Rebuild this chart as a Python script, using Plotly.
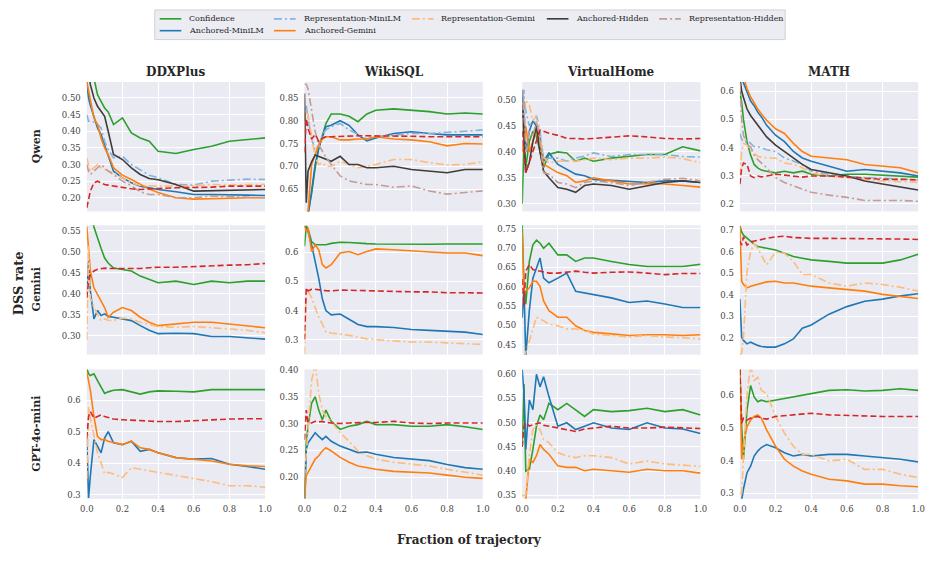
import plotly.graph_objects as go

# ---------------- data ----------------
X = [0, 0.01, 0.02, 0.04, 0.06, 0.08, 0.1, 0.12, 0.15, 0.2, 0.25, 0.3, 0.35, 0.4, 0.5, 0.6, 0.7, 0.8, 0.9, 1.0]

MODELS = ["Qwen", "Gemini", "GPT-4o-mini"]
DATASETS = ["DDXPlus", "WikiSQL", "VirtualHome", "MATH"]
X_TICKS = [0.0, 0.2, 0.4, 0.6, 0.8, 1.0]

qwen_ddxplus = {
    "Confidence":            [0.60, 0.60, 0.60, 0.56, 0.51, 0.49, 0.47, 0.458, 0.42, 0.44, 0.395, 0.38, 0.37, 0.34, 0.333, 0.345, 0.355, 0.37, 0.374, 0.38],
    "Anchored-MiniLM":       [0.55, 0.50, 0.478, 0.44, 0.41, 0.39, 0.36, 0.33, 0.28, 0.26, 0.245, 0.235, 0.23, 0.225, 0.218, 0.21, 0.21, 0.21, 0.208, 0.207],
    "Representation-MiniLM": [0.45, 0.43, 0.43, 0.428, 0.42, 0.41, 0.37, 0.345, 0.32, 0.325, 0.30, 0.285, 0.268, 0.26, 0.24, 0.238, 0.25, 0.253, 0.256, 0.255],
    "Anchored-Gemini":       [0.55, 0.52, 0.49, 0.44, 0.42, 0.38, 0.35, 0.33, 0.29, 0.268, 0.255, 0.24, 0.226, 0.216, 0.20, 0.196, 0.198, 0.20, 0.20, 0.20],
    "Representation-Gemini": [0.32, 0.30, 0.28, 0.29, 0.30, 0.29, 0.285, 0.28, 0.275, 0.26, 0.245, 0.237, 0.235, 0.235, 0.235, 0.236, 0.24, 0.238, 0.24, 0.24],
    "Anchored-Hidden":       [0.60, 0.57, 0.54, 0.50, 0.475, 0.46, 0.445, 0.40, 0.33, 0.315, 0.29, 0.27, 0.258, 0.254, 0.24, 0.22, 0.221, 0.222, 0.224, 0.225],
    "Representation-Hidden": [0.30, 0.28, 0.27, 0.28, 0.29, 0.30, 0.29, 0.28, 0.27, 0.25, 0.236, 0.218, 0.21, 0.21, 0.20, 0.20, 0.205, 0.203, 0.20, 0.20],
    "Baseline":              [0.17, 0.20, 0.22, 0.245, 0.25, 0.245, 0.24, 0.238, 0.235, 0.23, 0.227, 0.225, 0.227, 0.228, 0.23, 0.23, 0.232, 0.235, 0.235, 0.235],
}
qwen_wikisql = {
    "Confidence":            [0.55, 0.58, 0.60, 0.64, 0.697, 0.74, 0.769, 0.794, 0.815, 0.815, 0.81, 0.798, 0.815, 0.823, 0.826, 0.823, 0.82, 0.815, 0.817, 0.815],
    "Anchored-MiniLM":       [0.55, 0.57, 0.59, 0.646, 0.704, 0.74, 0.765, 0.787, 0.79, 0.80, 0.79, 0.769, 0.756, 0.762, 0.772, 0.776, 0.772, 0.769, 0.769, 0.769],
    "Representation-MiniLM": [0.80, 0.834, 0.805, 0.76, 0.736, 0.747, 0.769, 0.78, 0.787, 0.794, 0.78, 0.77, 0.76, 0.765, 0.769, 0.772, 0.772, 0.774, 0.777, 0.78],
    "Anchored-Gemini":       [0.55, 0.57, 0.60, 0.704, 0.726, 0.747, 0.76, 0.765, 0.765, 0.758, 0.758, 0.76, 0.76, 0.765, 0.76, 0.758, 0.754, 0.745, 0.75, 0.749],
    "Representation-Gemini": [0.80, 0.826, 0.812, 0.769, 0.72, 0.704, 0.708, 0.70, 0.70, 0.711, 0.704, 0.697, 0.70, 0.704, 0.715, 0.715, 0.708, 0.703, 0.704, 0.71],
    "Anchored-Hidden":       [0.86, 0.62, 0.69, 0.71, 0.725, 0.722, 0.718, 0.715, 0.711, 0.722, 0.704, 0.704, 0.697, 0.697, 0.70, 0.693, 0.69, 0.686, 0.693, 0.693],
    "Representation-Hidden": [0.88, 0.88, 0.87, 0.826, 0.776, 0.747, 0.733, 0.72, 0.704, 0.679, 0.668, 0.664, 0.66, 0.66, 0.654, 0.657, 0.646, 0.639, 0.643, 0.646],
    "Baseline":              [0.73, 0.805, 0.783, 0.76, 0.77, 0.755, 0.762, 0.765, 0.765, 0.766, 0.766, 0.767, 0.767, 0.767, 0.766, 0.766, 0.765, 0.765, 0.765, 0.765],
}
qwen_virtualhome = {
    "Confidence":            [0.30, 0.42, 0.37, 0.42, 0.44, 0.43, 0.40, 0.37, 0.395, 0.40, 0.398, 0.382, 0.388, 0.382, 0.388, 0.391, 0.395, 0.395, 0.41, 0.402],
    "Anchored-MiniLM":       [0.52, 0.45, 0.40, 0.44, 0.46, 0.45, 0.43, 0.382, 0.398, 0.376, 0.366, 0.357, 0.354, 0.347, 0.345, 0.343, 0.341, 0.344, 0.344, 0.341],
    "Representation-MiniLM": [0.52, 0.50, 0.48, 0.45, 0.46, 0.47, 0.44, 0.385, 0.388, 0.388, 0.382, 0.388, 0.392, 0.398, 0.391, 0.395, 0.395, 0.395, 0.391, 0.39],
    "Anchored-Gemini":       [0.40, 0.42, 0.45, 0.40, 0.42, 0.44, 0.41, 0.376, 0.37, 0.36, 0.354, 0.341, 0.344, 0.35, 0.344, 0.338, 0.339, 0.338, 0.335, 0.332],
    "Representation-Gemini": [0.45, 0.48, 0.50, 0.49, 0.46, 0.47, 0.43, 0.39, 0.379, 0.382, 0.382, 0.382, 0.385, 0.388, 0.385, 0.388, 0.388, 0.39, 0.387, 0.379],
    "Anchored-Hidden":       [0.49, 0.42, 0.36, 0.38, 0.42, 0.45, 0.40, 0.363, 0.35, 0.331, 0.328, 0.322, 0.335, 0.338, 0.335, 0.328, 0.335, 0.341, 0.344, 0.341],
    "Representation-Hidden": [0.45, 0.52, 0.40, 0.44, 0.43, 0.46, 0.42, 0.36, 0.357, 0.341, 0.338, 0.331, 0.341, 0.344, 0.341, 0.335, 0.341, 0.347, 0.349, 0.344],
    "Baseline":              [0.44, 0.40, 0.36, 0.38, 0.40, 0.42, 0.442, 0.44, 0.436, 0.432, 0.426, 0.426, 0.425, 0.426, 0.429, 0.431, 0.429, 0.426, 0.425, 0.426],
}
qwen_math = {
    "Confidence":            [0.60, 0.56, 0.50, 0.42, 0.374, 0.34, 0.328, 0.32, 0.316, 0.31, 0.316, 0.31, 0.316, 0.305, 0.299, 0.305, 0.305, 0.302, 0.299, 0.295],
    "Anchored-MiniLM":       [0.65, 0.65, 0.63, 0.595, 0.566, 0.549, 0.526, 0.51, 0.479, 0.444, 0.421, 0.386, 0.363, 0.351, 0.334, 0.316, 0.322, 0.316, 0.31, 0.299],
    "Representation-MiniLM": [0.45, 0.43, 0.42, 0.427, 0.415, 0.403, 0.403, 0.40, 0.392, 0.386, 0.363, 0.351, 0.34, 0.316, 0.305, 0.299, 0.293, 0.291, 0.287, 0.285],
    "Anchored-Gemini":       [0.65, 0.65, 0.65, 0.61, 0.58, 0.56, 0.537, 0.52, 0.497, 0.467, 0.45, 0.415, 0.386, 0.369, 0.363, 0.357, 0.34, 0.334, 0.328, 0.31],
    "Representation-Gemini": [0.30, 0.386, 0.415, 0.409, 0.392, 0.38, 0.369, 0.366, 0.363, 0.363, 0.345, 0.34, 0.328, 0.31, 0.299, 0.293, 0.287, 0.281, 0.279, 0.276],
    "Anchored-Hidden":       [0.65, 0.60, 0.578, 0.537, 0.514, 0.497, 0.479, 0.46, 0.438, 0.409, 0.386, 0.363, 0.34, 0.322, 0.31, 0.299, 0.281, 0.27, 0.258, 0.249],
    "Representation-Hidden": [0.63, 0.50, 0.444, 0.409, 0.403, 0.374, 0.357, 0.345, 0.328, 0.293, 0.276, 0.264, 0.252, 0.241, 0.231, 0.223, 0.212, 0.212, 0.212, 0.209],
    "Baseline":              [0.27, 0.328, 0.345, 0.34, 0.299, 0.293, 0.299, 0.296, 0.299, 0.305, 0.302, 0.299, 0.295, 0.299, 0.299, 0.295, 0.291, 0.287, 0.287, 0.285],
}
gemini_ddxplus = {
    "Confidence":            [0.60, 0.60, 0.60, 0.559, 0.532, 0.508, 0.485, 0.473, 0.461, 0.458, 0.454, 0.442, 0.434, 0.426, 0.43, 0.422, 0.43, 0.426, 0.43, 0.43],
    "Anchored-MiniLM":       [0.40, 0.477, 0.407, 0.34, 0.36, 0.348, 0.352, 0.346, 0.344, 0.34, 0.336, 0.324, 0.313, 0.305, 0.306, 0.305, 0.298, 0.298, 0.295, 0.292],
    "Anchored-Gemini":       [0.56, 0.516, 0.454, 0.414, 0.399, 0.383, 0.367, 0.344, 0.356, 0.367, 0.36, 0.344, 0.332, 0.324, 0.328, 0.332, 0.332, 0.328, 0.324, 0.319],
    "Representation-Gemini": [0.29, 0.516, 0.39, 0.367, 0.352, 0.336, 0.34, 0.337, 0.336, 0.342, 0.34, 0.332, 0.327, 0.322, 0.32, 0.322, 0.319, 0.316, 0.313, 0.307],
    "Baseline":              [0.39, 0.43, 0.446, 0.454, 0.458, 0.46, 0.461, 0.46, 0.46, 0.461, 0.46, 0.46, 0.462, 0.463, 0.463, 0.465, 0.467, 0.468, 0.469, 0.472],
}
gemini_wikisql = {
    "Confidence":            [0.62, 0.69, 0.68, 0.636, 0.625, 0.625, 0.623, 0.625, 0.63, 0.634, 0.633, 0.63, 0.629, 0.628, 0.627, 0.627, 0.627, 0.628, 0.628, 0.628],
    "Anchored-MiniLM":       [0.69, 0.681, 0.67, 0.625, 0.568, 0.51, 0.44, 0.40, 0.385, 0.388, 0.37, 0.352, 0.345, 0.345, 0.342, 0.335, 0.332, 0.33, 0.326, 0.318],
    "Anchored-Gemini":       [0.69, 0.67, 0.681, 0.602, 0.625, 0.608, 0.557, 0.546, 0.557, 0.597, 0.602, 0.591, 0.602, 0.611, 0.608, 0.605, 0.60, 0.597, 0.597, 0.588],
    "Representation-Gemini": [0.25, 0.456, 0.467, 0.444, 0.41, 0.377, 0.354, 0.326, 0.323, 0.32, 0.315, 0.309, 0.303, 0.30, 0.295, 0.292, 0.292, 0.29, 0.286, 0.284],
    "Baseline":              [0.30, 0.478, 0.467, 0.473, 0.473, 0.47, 0.469, 0.468, 0.467, 0.47, 0.47, 0.469, 0.468, 0.467, 0.465, 0.464, 0.464, 0.461, 0.461, 0.46],
}
gemini_virtualhome = {
    "Confidence":            [0.76, 0.60, 0.555, 0.665, 0.708, 0.72, 0.712, 0.699, 0.712, 0.682, 0.682, 0.665, 0.674, 0.674, 0.665, 0.657, 0.652, 0.652, 0.652, 0.658],
    "Anchored-MiniLM":       [0.52, 0.60, 0.42, 0.538, 0.622, 0.648, 0.674, 0.622, 0.61, 0.622, 0.635, 0.588, 0.584, 0.58, 0.571, 0.559, 0.563, 0.555, 0.546, 0.546],
    "Anchored-Gemini":       [0.74, 0.58, 0.588, 0.597, 0.614, 0.614, 0.601, 0.563, 0.538, 0.521, 0.521, 0.499, 0.487, 0.482, 0.478, 0.474, 0.476, 0.476, 0.474, 0.476],
    "Representation-Gemini": [0.42, 0.42, 0.43, 0.461, 0.495, 0.521, 0.516, 0.512, 0.503, 0.499, 0.491, 0.491, 0.487, 0.478, 0.474, 0.47, 0.474, 0.47, 0.468, 0.465],
    "Baseline":              [0.62, 0.55, 0.64, 0.657, 0.644, 0.642, 0.64, 0.638, 0.635, 0.635, 0.638, 0.64, 0.637, 0.635, 0.637, 0.638, 0.635, 0.631, 0.634, 0.634],
}
gemini_math = {
    "Confidence":            [0.72, 0.692, 0.677, 0.662, 0.646, 0.635, 0.624, 0.62, 0.616, 0.608, 0.593, 0.578, 0.57, 0.562, 0.555, 0.547, 0.547, 0.547, 0.562, 0.588],
    "Anchored-MiniLM":       [0.38, 0.203, 0.188, 0.172, 0.18, 0.172, 0.165, 0.16, 0.157, 0.157, 0.172, 0.195, 0.245, 0.26, 0.31, 0.345, 0.37, 0.38, 0.395, 0.405],
    "Anchored-Gemini":       [0.72, 0.463, 0.448, 0.432, 0.44, 0.445, 0.448, 0.455, 0.46, 0.463, 0.455, 0.455, 0.448, 0.44, 0.432, 0.425, 0.417, 0.402, 0.394, 0.383],
    "Representation-Gemini": [0.12, 0.13, 0.203, 0.509, 0.60, 0.639, 0.616, 0.585, 0.539, 0.598, 0.593, 0.555, 0.494, 0.494, 0.455, 0.44, 0.455, 0.448, 0.435, 0.417],
    "Baseline":              [0.65, 0.631, 0.669, 0.631, 0.646, 0.65, 0.654, 0.658, 0.662, 0.669, 0.672, 0.666, 0.664, 0.662, 0.662, 0.662, 0.662, 0.662, 0.659, 0.657],
}
gpt_ddxplus = {
    "Confidence":            [0.70, 0.683, 0.678, 0.683, 0.662, 0.642, 0.621, 0.626, 0.631, 0.633, 0.626, 0.619, 0.626, 0.629, 0.628, 0.626, 0.633, 0.633, 0.631, 0.633],
    "Anchored-MiniLM":       [0.48, 0.29, 0.36, 0.475, 0.454, 0.433, 0.48, 0.50, 0.465, 0.459, 0.47, 0.438, 0.444, 0.433, 0.418, 0.413, 0.415, 0.397, 0.39, 0.381],
    "Anchored-Gemini":       [0.69, 0.662, 0.631, 0.548, 0.485, 0.475, 0.475, 0.47, 0.465, 0.459, 0.47, 0.449, 0.444, 0.433, 0.418, 0.413, 0.407, 0.397, 0.392, 0.39],
    "Representation-Gemini": [0.35, 0.579, 0.543, 0.485, 0.433, 0.402, 0.366, 0.371, 0.366, 0.355, 0.386, 0.381, 0.376, 0.371, 0.36, 0.35, 0.342, 0.329, 0.329, 0.324],
    "Baseline":              [0.48, 0.548, 0.564, 0.543, 0.548, 0.553, 0.548, 0.545, 0.54, 0.538, 0.536, 0.535, 0.533, 0.532, 0.532, 0.535, 0.538, 0.54, 0.541, 0.541],
}
gpt_wikisql = {
    "Confidence":            [0.16, 0.264, 0.295, 0.338, 0.35, 0.325, 0.307, 0.325, 0.304, 0.289, 0.295, 0.298, 0.304, 0.298, 0.298, 0.295, 0.295, 0.298, 0.294, 0.289],
    "Anchored-MiniLM":       [0.16, 0.252, 0.264, 0.273, 0.283, 0.276, 0.27, 0.276, 0.267, 0.258, 0.252, 0.246, 0.247, 0.243, 0.237, 0.234, 0.231, 0.224, 0.218, 0.215],
    "Anchored-Gemini":       [0.16, 0.203, 0.209, 0.221, 0.234, 0.24, 0.249, 0.255, 0.249, 0.237, 0.228, 0.221, 0.218, 0.215, 0.211, 0.209, 0.208, 0.204, 0.20, 0.198],
    "Representation-Gemini": [0.20, 0.25, 0.295, 0.38, 0.41, 0.356, 0.325, 0.313, 0.304, 0.283, 0.267, 0.249, 0.24, 0.234, 0.228, 0.224, 0.221, 0.215, 0.209, 0.204],
    "Baseline":              [0.27, 0.325, 0.301, 0.301, 0.304, 0.303, 0.304, 0.302, 0.301, 0.30, 0.301, 0.302, 0.302, 0.302, 0.304, 0.301, 0.30, 0.301, 0.301, 0.301],
}
gpt_virtualhome = {
    "Confidence":            [0.45, 0.58, 0.40, 0.404, 0.445, 0.493, 0.516, 0.506, 0.54, 0.527, 0.54, 0.527, 0.513, 0.527, 0.523, 0.525, 0.53, 0.523, 0.527, 0.516],
    "Anchored-MiniLM":       [0.61, 0.56, 0.445, 0.547, 0.527, 0.60, 0.574, 0.595, 0.554, 0.493, 0.50, 0.486, 0.493, 0.50, 0.489, 0.486, 0.50, 0.489, 0.487, 0.478],
    "Anchored-Gemini":       [0.34, 0.34, 0.34, 0.425, 0.418, 0.432, 0.455, 0.445, 0.435, 0.411, 0.408, 0.408, 0.401, 0.404, 0.401, 0.398, 0.404, 0.401, 0.401, 0.396],
    "Representation-Gemini": [0.35, 0.35, 0.35, 0.432, 0.486, 0.496, 0.486, 0.465, 0.459, 0.438, 0.432, 0.428, 0.432, 0.432, 0.428, 0.415, 0.421, 0.415, 0.412, 0.41],
    "Baseline":              [0.45, 0.493, 0.50, 0.493, 0.496, 0.498, 0.50, 0.495, 0.493, 0.489, 0.485, 0.482, 0.487, 0.489, 0.493, 0.489, 0.489, 0.491, 0.489, 0.488],
}
gpt_math = {
    "Confidence":            [0.68, 0.504, 0.404, 0.555, 0.63, 0.595, 0.58, 0.585, 0.58, 0.585, 0.59, 0.595, 0.60, 0.605, 0.615, 0.617, 0.613, 0.615, 0.62, 0.615],
    "Anchored-MiniLM":       [0.28, 0.28, 0.313, 0.363, 0.383, 0.414, 0.429, 0.44, 0.449, 0.439, 0.424, 0.414, 0.419, 0.414, 0.419, 0.419, 0.414, 0.409, 0.404, 0.396],
    "Anchored-Gemini":       [0.68, 0.404, 0.454, 0.504, 0.524, 0.535, 0.54, 0.53, 0.494, 0.444, 0.404, 0.383, 0.368, 0.358, 0.343, 0.338, 0.328, 0.328, 0.323, 0.32],
    "Representation-Gemini": [0.30, 0.30, 0.404, 0.605, 0.69, 0.645, 0.655, 0.615, 0.605, 0.535, 0.484, 0.444, 0.419, 0.419, 0.399, 0.404, 0.373, 0.373, 0.358, 0.348],
    "Baseline":              [0.68, 0.514, 0.53, 0.524, 0.53, 0.532, 0.535, 0.53, 0.527, 0.535, 0.537, 0.54, 0.543, 0.545, 0.54, 0.538, 0.535, 0.535, 0.535, 0.535],
}

PANEL_DATA = [
    [qwen_ddxplus, qwen_wikisql, qwen_virtualhome, qwen_math],
    [gemini_ddxplus, gemini_wikisql, gemini_virtualhome, gemini_math],
    [gpt_ddxplus, gpt_wikisql, gpt_virtualhome, gpt_math],
]

# ---------------- styling ----------------
W, H = 938, 567
SERIF = "DejaVu Serif"
BG = "#EAEAF2"
TXT = "#262626"

STYLE = {
    "Confidence":            ("#2ca02c", "solid"),
    "Anchored-MiniLM":       ("#1f77b4", "solid"),
    "Representation-MiniLM": ("#84b4dc", "8px,3px,2px,3px"),
    "Anchored-Gemini":       ("#ff7f0e", "solid"),
    "Representation-Gemini": ("#ffbb78", "8px,3px,2px,3px"),
    "Anchored-Hidden":       ("#3d3d3d", "solid"),
    "Representation-Hidden": ("#c49c94", "8px,3px,2px,3px"),
    "Baseline":              ("#d62728", "6px,3px"),
}
DRAW_ORDER = ["Confidence", "Anchored-MiniLM", "Representation-MiniLM", "Anchored-Gemini",
              "Representation-Gemini", "Anchored-Hidden", "Representation-Hidden", "Baseline"]

# axis ranges and tick steps per panel
Y_RANGES = [
    [(0.159, 0.548, 0.05), (0.601, 0.885, 0.05), (0.285, 0.535, 0.05), (0.173, 0.633, 0.1)],
    [(0.255, 0.563, 0.05), (0.249, 0.692, 0.1), (0.4245, 0.7585, 0.05), (0.122, 0.723, 0.1)],
    [(0.2875, 0.697, 0.1), (0.160, 0.4006, 0.05), (0.343, 0.610, 0.05), (0.283, 0.679, 0.1)],
]

COL_PX = [(81, 262), (302, 483), (523, 704), (744, 925)]
ROW_PX = [(78, 209), (223, 354), (369, 500)]

fig = go.Figure()
layout = {}
for r in range(3):
    for c in range(4):
        k = r * 4 + c + 1
        sfx = "" if k == 1 else str(k)
        panel = PANEL_DATA[r][c]
        for name in DRAW_ORDER:
            if name not in panel:
                continue
            vals = panel[name]
            assert len(vals) == len(X), (r, c, name, len(vals))
            color, dash = STYLE[name]
            fig.add_trace(go.Scatter(
                x=X, y=vals, mode="lines", name=name, showlegend=False,
                line=dict(color=color, width=1.6, dash=dash),
                xaxis="x" + sfx, yaxis="y" + sfx, hoverinfo="skip",
            ))
        x0, x1 = COL_PX[c]
        y0, y1 = ROW_PX[r]
        lo, hi, step = Y_RANGES[r][c]
        layout["xaxis" + sfx] = dict(
            domain=[x0 / W, x1 / W], range=[0, 1], anchor="y" + sfx,
            tickvals=X_TICKS, ticktext=[f"{v:.1f}" for v in X_TICKS],
            showticklabels=(r == 2), showgrid=True, gridcolor="white", gridwidth=1,
            zeroline=False, showline=False, ticks="", ticklabelstandoff=4,
            tickfont=dict(family=SERIF, size=8.5, color="#444444"),
        )
        layout["yaxis" + sfx] = dict(
            domain=[1 - y1 / H, 1 - y0 / H], range=[lo, hi], anchor="x" + sfx,
            tick0=0, dtick=step, tickformat=".2f" if step < 0.1 else ".1f",
            showgrid=True, gridcolor="white", gridwidth=1,
            zeroline=False, showline=False, ticks="", ticklabelstandoff=5,
            tickfont=dict(family=SERIF, size=8.5, color="#444444"),
        )

annotations = []
shapes = []
# column titles
for c, name in enumerate(DATASETS):
    x0, x1 = COL_PX[c]
    annotations.append(dict(x=(x0 + x1) / 2 / W, y=1 - 68 / H, xref="paper", yref="paper",
                            text=f"<b>{name}</b>", showarrow=False, xanchor="center", yanchor="middle",
                            font=dict(family=SERIF, size=12, color=TXT)))
# row labels
for r, name in enumerate(MODELS):
    y0, y1 = ROW_PX[r]
    annotations.append(dict(x=30 / W, y=1 - (y0 + y1) / 2 / H, xref="paper", yref="paper",
                            text=f"<b>{name}</b>", showarrow=False, textangle=-90,
                            xanchor="center", yanchor="middle",
                            font=dict(family=SERIF, size=11, color=TXT)))
annotations.append(dict(x=12 / W, y=1 - 282 / H, xref="paper", yref="paper",
                        text="<b>DSS rate</b>", showarrow=False, textangle=-90,
                        xanchor="center", yanchor="middle",
                        font=dict(family=SERIF, size=13, color=TXT)))
annotations.append(dict(x=470 / W, y=1 - 542 / H, xref="paper", yref="paper",
                        text="<b>Fraction of trajectory</b>", showarrow=False,
                        xanchor="center", yanchor="middle",
                        font=dict(family=SERIF, size=12, color=TXT)))

# manual legend (matplotlib-style column-major layout)
shapes.append(dict(type="rect", xref="paper", yref="paper",
                   x0=150 / W, x1=790 / W, y0=1 - 35 / H, y1=1 - 5 / H,
                   fillcolor="#ECECF3", line=dict(color="#d0d0d8", width=1), layer="below"))
LEGEND_SLOTS = [
    ("Confidence", 155, 14), ("Anchored-MiniLM", 155, 26),
    ("Representation-MiniLM", 271, 14), ("Anchored-Gemini", 271, 26),
    ("Representation-Gemini", 411, 14),
    ("Anchored-Hidden", 548, 14),
    ("Representation-Hidden", 662, 14),
]
for name, lx, ly in LEGEND_SLOTS:
    color, dash = STYLE[name]
    shapes.append(dict(type="line", xref="paper", yref="paper",
                       x0=lx / W, x1=(lx + 22) / W, y0=1 - ly / H, y1=1 - ly / H,
                       line=dict(color=color, width=1.6, dash=dash)))
    annotations.append(dict(x=(lx + 28) / W, y=1 - ly / H, xref="paper", yref="paper",
                            text=name, showarrow=False, xanchor="left", yanchor="middle",
                            font=dict(family=SERIF, size=8, color=TXT)))

fig.update_layout(
    width=W, height=H, margin=dict(l=0, r=0, t=0, b=0),
    paper_bgcolor="white", plot_bgcolor=BG, showlegend=False,
    annotations=annotations, shapes=shapes, **layout,
)
fig.write_html("out.html")
